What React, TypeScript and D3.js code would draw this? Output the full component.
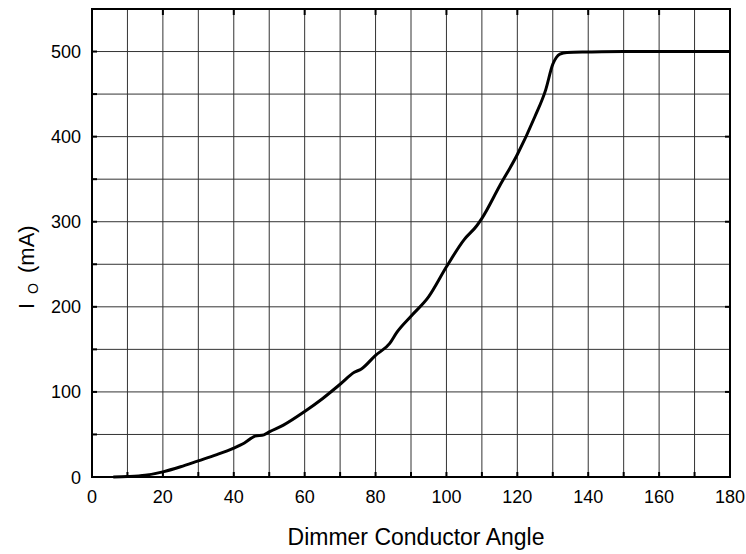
import * as d3 from "d3";

const angles = [6, 10, 15, 20, 25, 30, 35, 40, 43, 46, 48.5, 50, 54, 60, 65, 70, 74, 76, 80, 84, 86, 90, 95, 100, 105, 108.5, 110, 115, 120, 125, 128, 130, 131, 132, 134, 140, 150, 160, 180];
const currents = [0, 0.5, 2, 6, 12, 19, 26, 34, 40, 48, 49.5, 53, 61, 77, 92, 109, 123, 127, 143, 157, 170, 189, 212, 247, 279, 295, 304, 342, 379, 424, 455, 485, 493, 497, 499, 499.5, 500, 500, 500];
const xTickLabels = [0, 20, 40, 60, 80, 100, 120, 140, 160, 180];
const yTickLabels = [0, 100, 200, 300, 400, 500];

const width = 746;
const height = 554;
const margin = { top: 9, right: 16, bottom: 77, left: 92 };

export default function App() {
  const x = d3.scaleLinear().domain([0, 180]).range([margin.left, width - margin.right]);
  const y = d3.scaleLinear().domain([0, 550]).range([height - margin.bottom, margin.top]);

  const data = angles.map((a, i) => ({ a, v: currents[i] }));
  const line = d3
    .line<{ a: number; v: number }>()
    .x((d) => x(d.a))
    .y((d) => y(d.v))
    .curve(d3.curveMonotoneX);

  const xGrid = d3.range(10, 180, 10);
  const yGrid = d3.range(50, 550, 50);
  const font = "Arial, 'Liberation Sans', sans-serif";
  const [x0, x1] = x.range();
  const [y0, y1] = y.range();

  return (
    <svg width={width} height={height} style={{ position: "absolute", left: 0, top: 0 }}>
      <rect width={width} height={height} fill="white" />
      {/* grid */}
      <g stroke="#333" strokeWidth={1}>
        {xGrid.map((t) => (
          <line key={"gx" + t} x1={x(t)} x2={x(t)} y1={y1} y2={y0} />
        ))}
        {yGrid.map((t) => (
          <line key={"gy" + t} x1={x0} x2={x1} y1={y(t)} y2={y(t)} />
        ))}
      </g>
      {/* ticks */}
      <g stroke="#000" strokeWidth={2}>
        {d3.range(0, 190, 10).map((t) => (
          <line key={"tb" + t} x1={x(t)} x2={x(t)} y1={y0} y2={y0 - 5} />
        ))}
        {d3.range(0, 200, 20).map((t) => (
          <line key={"tt" + t} x1={x(t)} x2={x(t)} y1={y1} y2={y1 + 6} />
        ))}
        {d3.range(0, 600, 50).map((t) => (
          <line key={"tl" + t} x1={x0} x2={x0 + 5} y1={y(t)} y2={y(t)} />
        ))}
        {d3.range(0, 600, 100).map((t) => (
          <line key={"tr" + t} x1={x1} x2={x1 - 5} y1={y(t)} y2={y(t)} />
        ))}
      </g>
      {/* frame */}
      <rect x={x0} y={y1} width={x1 - x0} height={y0 - y1} fill="none" stroke="#000" strokeWidth={2} />
      {/* curve */}
      <path d={line(data) || ""} fill="none" stroke="#000" strokeWidth={3} strokeLinejoin="round" />
      {/* tick labels */}
      <g fontFamily={font} fontSize={18} fill="#000">
        {xTickLabels.map((t) => (
          <text key={"xl" + t} x={x(t)} y={y0 + 26} textAnchor="middle">
            {t}
          </text>
        ))}
        {yTickLabels.map((t) => (
          <text key={"yl" + t} x={x0 - 11} y={y(t) + 6.5} textAnchor="end">
            {t}
          </text>
        ))}
      </g>
      {/* axis titles */}
      <text x={416} y={545} textAnchor="middle" fontFamily={font} fontSize={23}>
        Dimmer Conductor Angle
      </text>
      <text transform="translate(34,309) rotate(-90)" fontFamily={font} fontSize={22}>
        I
        <tspan fontSize={14} dx={9} dy={4}>
          O
        </tspan>
        <tspan dx={10} dy={-4}>
          (mA)
        </tspan>
      </text>
    </svg>
  );
}
